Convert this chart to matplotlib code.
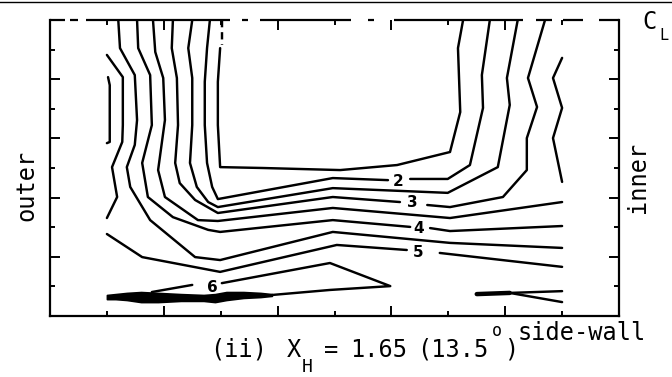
import matplotlib
matplotlib.use("Agg")
import matplotlib.pyplot as plt
from matplotlib.lines import Line2D

# ---------------- data (x: 0..10 across duct, y: 0..10 from side-wall to centre-line) ----
c15_dash_x = [3.02, 3.02]
c15_dash_y = [10.0, 9.16]
c15_x = [2.99, 2.95, 2.95, 2.99, 3.74, 5.10, 6.10, 7.03, 7.21, 7.17, 7.26]
c15_y = [9.05, 7.91, 6.45, 5.03, 5.00, 4.93, 5.10, 5.54, 6.89, 9.05, 10.0]

c20a_x = [2.81, 2.76, 2.72, 2.72, 2.76, 2.85, 2.95, 4.97, 5.94]
c20a_y = [10.0, 9.05, 7.91, 6.45, 5.17, 4.36, 3.95, 4.66, 4.59]
c20b_x = [6.33, 6.99, 7.38, 7.61, 7.59, 7.73]
c20b_y = [4.63, 4.63, 5.10, 7.03, 8.14, 10.0]

c25_x = [2.50, 2.43, 2.50, 2.50, 2.46, 2.58, 2.78, 2.95, 4.97, 6.99, 7.87, 8.08, 8.03, 8.22]
c25_y = [10.0, 9.05, 8.04, 6.45, 5.17, 4.36, 3.85, 3.68, 4.32, 4.16, 5.03, 7.13, 8.04, 10.0]

c30a_x = [2.16, 2.14, 2.23, 2.25, 2.20, 2.28, 2.55, 2.95, 4.97, 6.15]
c30a_y = [10.0, 9.05, 8.04, 6.45, 5.17, 4.49, 3.92, 3.48, 4.02, 3.85]
c30b_x = [6.63, 7.03, 7.96, 8.38, 8.38, 8.56, 8.40, 8.70]
c30b_y = [3.75, 3.68, 4.02, 4.93, 6.01, 7.06, 8.04, 10.0]

c35_x = [1.81, 1.85, 1.99, 2.02, 1.90, 2.02, 2.60, 2.95, 4.97, 7.03, 9.00]
c35_y = [10.0, 8.92, 8.04, 6.62, 4.93, 4.02, 3.24, 3.21, 3.65, 3.31, 3.85]
c35r_x = [9.00, 8.84, 9.00, 8.84, 9.00]
c35r_y = [8.72, 8.04, 7.03, 6.01, 4.53]

c40a_x = [1.53, 1.55, 1.76, 1.79, 1.62, 1.72, 2.16, 2.78, 2.99, 4.97, 6.33]
c40a_y = [10.0, 9.05, 8.14, 6.45, 5.17, 4.02, 3.34, 2.91, 2.84, 3.24, 3.01]
c40b_x = [6.68, 7.03, 9.00]
c40b_y = [2.97, 2.87, 3.04]

c45_x = [1.20, 1.23, 1.49, 1.53, 1.49, 1.35, 1.41, 1.76, 2.55, 2.99, 4.97, 7.03, 9.00]
c45_y = [10.0, 9.05, 8.14, 6.62, 5.78, 5.03, 4.36, 3.24, 1.99, 1.89, 2.84, 2.47, 2.30]

c50u_x = [1.00, 1.28, 1.28, 1.27, 1.09, 1.18, 1.00]
c50u_y = [8.82, 8.07, 6.45, 5.88, 5.03, 4.02, 3.31]
c55_x = [1.02, 1.05, 1.05, 1.00]
c55_y = [8.07, 7.80, 5.88, 5.84]

c50a_x = [1.00, 1.62, 2.99, 5.04, 6.27]
c50a_y = [2.77, 1.99, 1.49, 2.40, 2.23]
c50b_x = [6.85, 9.00]
c50b_y = [2.13, 1.66]

c60a_x = [1.79, 2.50]
c60a_y = [0.81, 1.05]
c60b_x = [3.02, 4.92, 5.98, 4.92, 3.90]
c60b_y = [1.11, 1.79, 1.01, 0.88, 0.71]

band_x = [1.00, 1.15, 1.35, 1.60, 1.90, 2.30, 2.70, 2.90, 3.10, 3.40, 3.70, 3.90]
band_top = [0.71, 0.74, 0.78, 0.81, 0.78, 0.74, 0.71, 0.74, 0.81, 0.81, 0.78, 0.74]
band_bot = [0.57, 0.57, 0.54, 0.47, 0.47, 0.51, 0.51, 0.47, 0.54, 0.61, 0.64, 0.68]

wedge_thick_x = [7.50, 8.08]
wedge_thick_y = [0.74, 0.78]
wedge_up_x = [8.08, 9.00]
wedge_up_y = [0.78, 0.84]
wedge_lo_x = [8.08, 9.00]
wedge_lo_y = [0.78, 0.47]

label_text = ["2", "3", "4", "5", "6"]
label_x = [6.12, 6.36, 6.47, 6.47, 2.86]
label_y = [4.56, 3.82, 2.97, 2.13, 0.95]

top_solid_x = [(0.0, 0.26), (0.35, 0.49), (0.63, 3.16), (3.37, 3.48), (3.69, 5.29),
               (5.59, 5.69), (6.04, 8.31), (8.54, 8.82), (9.02, 9.37), (9.65, 10.0)]

major_ticks = [2, 4, 6, 8]
minor_ticks = [1, 3, 5, 7, 9]

# ---------------- figure ----------------
W, H = 672, 377
fig = plt.figure(figsize=(W / 100, H / 100), dpi=100)
fig.patch.set_facecolor("white")
ax = fig.add_axes([50 / W, 1 - 316 / H, 569 / W, 296 / H])
ax.set_xlim(0, 10)
ax.set_ylim(0, 10)

lw = 1.75
kw = dict(color="black", lw=lw, solid_capstyle="round", solid_joinstyle="round")
lines = [
    (c15_x, c15_y), (c20a_x, c20a_y), (c20b_x, c20b_y), (c25_x, c25_y),
    (c30a_x, c30a_y), (c30b_x, c30b_y), (c35_x, c35_y), (c35r_x, c35r_y),
    (c40a_x, c40a_y), (c40b_x, c40b_y), (c45_x, c45_y), (c50u_x, c50u_y),
    (c55_x, c55_y), (c50a_x, c50a_y), (c50b_x, c50b_y), (c60a_x, c60a_y),
    (c60b_x, c60b_y), (wedge_up_x, wedge_up_y), (wedge_lo_x, wedge_lo_y),
]
for xs, ys in lines:
    ax.plot(xs, ys, **kw)
ax.plot(c15_dash_x, c15_dash_y, color="black", lw=lw, linestyle=(0, (3, 2)))
ax.plot(wedge_thick_x, wedge_thick_y, color="black", lw=3.2, solid_capstyle="round")
ax.fill_between(band_x, band_bot, band_top, color="black", lw=1.2, edgecolor="black")

for t, x, y in zip(label_text, label_x, label_y):
    ax.text(x, y, t, fontsize=11, fontweight="bold", ha="center", va="center",
            family="DejaVu Sans")

# spines / ticks
for s in ("left", "right", "bottom"):
    ax.spines[s].set_linewidth(1.6)
ax.spines["top"].set_visible(False)
for a, b in top_solid_x:
    ax.plot([a, b], [10, 10], color="black", lw=1.6, clip_on=False, solid_capstyle="butt")

ax.set_xticks(major_ticks)
ax.set_xticks(minor_ticks, minor=True)
ax.set_yticks(major_ticks)
ax.set_yticks(minor_ticks, minor=True)
ax.tick_params(which="both", direction="in", top=True, right=True,
               labelbottom=False, labelleft=False, width=1.4)
ax.tick_params(which="major", length=7)
ax.tick_params(which="minor", length=3.8)

# texts
mono = "DejaVu Sans Mono"
def ft(x, y, s, size=17, **k):
    fig.text(x / W, 1 - y / H, s, fontsize=size, family=mono, va="baseline", ha="left", **k)

ft(210, 357, "(ii)")
ft(287, 357, "X")
ft(302, 372, "H", size=13)
ft(324, 357, "=")
ft(350, 357, "1.65")
ft(417, 357, "(13.5")
ft(492, 336, "o", size=12)
ft(504, 357, ")")
ft(518, 340, "side-wall")

fig.text(26 / W, 1 - 185 / H, "outer", fontsize=17, family=mono, rotation=90,
         ha="center", va="center")
fig.text(638 / W, 1 - 177 / H, "inner", fontsize=17, family=mono, rotation=90,
         ha="center", va="center")
fig.text(650 / W, 1 - 22 / H, "C", fontsize=17, family=mono, ha="center", va="center")
fig.text(664 / W, 1 - 36 / H, "L", fontsize=11, family=mono, ha="center", va="center")

fig.add_artist(Line2D([0, 1], [1 - 1.5 / H, 1 - 1.5 / H], color="black", lw=1.0))

fig.savefig("out.png", dpi=100, facecolor="white")
